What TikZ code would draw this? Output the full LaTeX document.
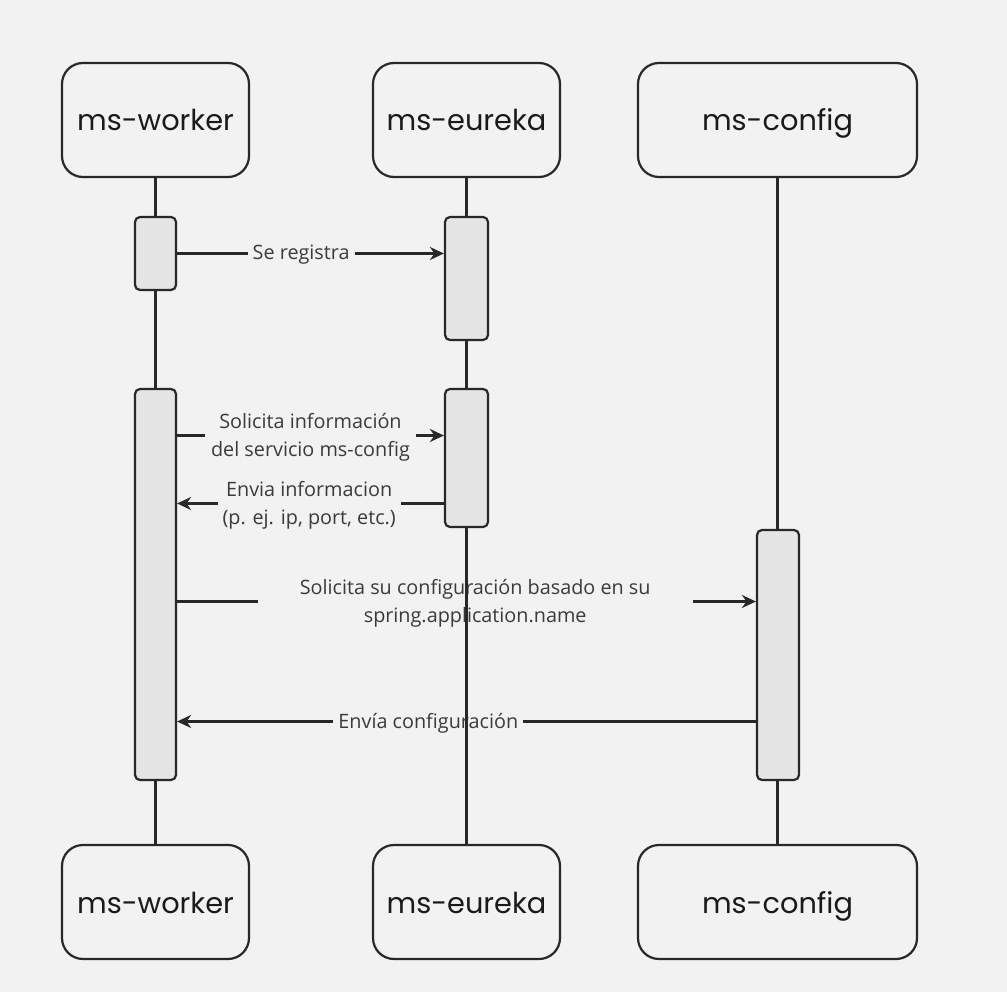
\documentclass[tikz,border=0pt]{standalone}
\usepackage{fontspec}
\setmainfont{Open Sans}
\newfontfamily\titlefont{Poppins}
\usetikzlibrary{arrows.meta,positioning}
\pgfdeclarelayer{background}
\pgfsetlayers{background,main}

\begin{document}
\begin{tikzpicture}[x=1pt,y=-1pt,
  actor/.style={draw=drawColor,line width=2.2pt,rounded corners=21pt,fill=fillColor,
    minimum height=114pt,inner sep=0pt,text=titleColor,text height=28pt,text depth=6pt,
    font=\titlefont\fontsize{28.8}{34}\selectfont},
  bar/.style={draw=drawColor,line width=2.2pt,rounded corners=5pt,fill=barColor,inner sep=0pt},
  msg/.style={draw=drawColor,line width=2.3pt,-{Stealth[length=14pt,width=13pt]}},
  lifeline/.style={draw=drawColor,line width=2.2pt},
  lbl/.style={fill=fillColor,text=labelColor,inner xsep=5pt,inner ysep=2pt,align=center,
    yshift=-1.5pt,font=\fontsize{19.8}{28}\selectfont}]
\definecolor{fillColor}{RGB}{242,242,242}
\definecolor{drawColor}{RGB}{40,40,40}
\definecolor{barColor}{RGB}{229,229,229}
\definecolor{titleColor}{RGB}{26,26,26}
\definecolor{labelColor}{RGB}{58,58,58}
\useasboundingbox (0,0) rectangle (1007,992);

% participants
\node[actor,minimum width=187pt] (workertop) at (155.5,120) {ms-worker};
\node[actor,minimum width=187pt] (eurekatop) at (466.5,120) {ms-eureka};
\node[actor,minimum width=279pt] (configtop) at (777.5,120) {ms-config};
\node[actor,minimum width=187pt] (workerbot) at (155.5,902) {ms-worker};
\node[actor,minimum width=187pt] (eurekabot) at (466.5,902) {ms-eureka};
\node[actor,minimum width=279pt] (configbot) at (777.5,902) {ms-config};

% activations
\node[bar,minimum width=41pt,minimum height=73pt] (wbarA) at (155.5,253.5) {};
\node[bar,minimum width=43pt,minimum height=123pt] (ebarA) at (466.5,278.5) {};
\node[bar,minimum width=41pt,minimum height=391pt] (wbarB) at (155.5,584.5) {};
\node[bar,minimum width=43pt,minimum height=138pt] (ebarB) at (466.5,458) {};
\node[bar,minimum width=42pt,minimum height=250pt] (cbar) at (778,655) {};

\coordinate (m1) at (0,253.5);
\coordinate (m2) at (0,435.5);
\coordinate (m3) at (0,503.5);
\coordinate (m4) at (0,601.5);
\coordinate (m5) at (0,721.5);

\begin{pgfonlayer}{background}
\fill[fillColor] (0,0) rectangle (1007,992);
% messages
\draw[msg] (wbarA.east |- m1) -- node[lbl,pos=0.465] (l1) {Se registra} (ebarA.west |- m1);
\draw[msg] (wbarB.east |- m2) -- node[lbl,pos=0.5,inner xsep=6pt] (l2) {Solicita información\\del servicio ms-config} (ebarB.west |- m2);
\draw[msg] (ebarB.west |- m3) -- node[lbl,pos=0.505] (l3) {Envia informacion\\(p. ej. ip, port, etc.)} (wbarB.east |- m3);
\draw[msg] (wbarB.east |- m4) -- node[lbl,pos=0.515,inner xsep=42pt] (l4) {Solicita su configuración basado en su\\spring.application.name} (cbar.west |- m4);
\draw[msg] (cbar.west |- m5) -- node[lbl,pos=0.566] (l5) {Envía configuración} (wbarB.east |- m5);

% lifelines
\path[lifeline] (workertop.south) -- (workerbot.north);
\path[lifeline] (eurekatop.south) -- (eurekabot.north);
\path[lifeline] (configtop.south) -- (configbot.north);
\end{pgfonlayer}
\end{tikzpicture}
\end{document}
